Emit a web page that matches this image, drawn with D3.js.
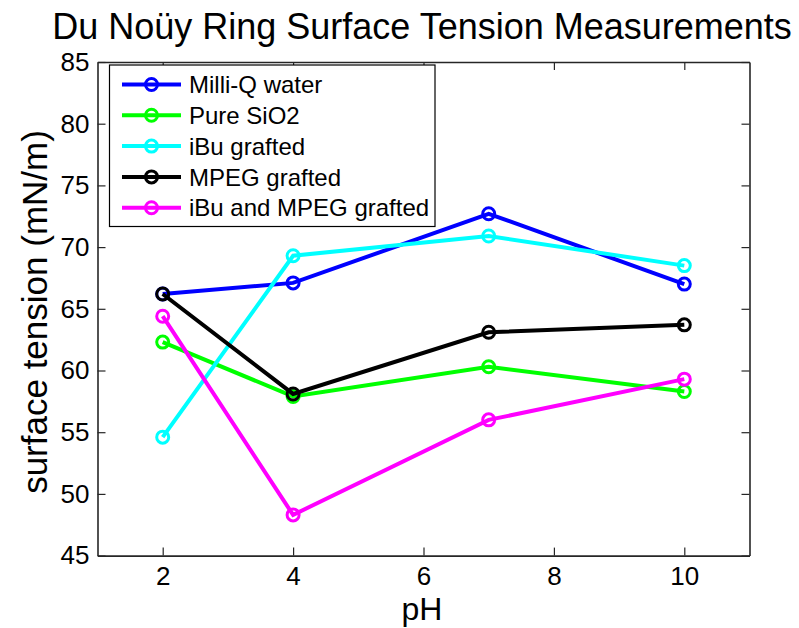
<!DOCTYPE html>
<html><head><meta charset="utf-8">
<script src="https://cdn.jsdelivr.net/npm/d3@7"></script>
<style>body{margin:0;background:#fff}svg{display:block}text{font-family:"Liberation Sans",Arial,sans-serif}</style>
</head><body>
<script>
const pH = [2, 4, 7, 10];
const milliQ = [66.2, 67.1, 72.7, 67.0];
const pureSiO2 = [62.3, 57.9, 60.3, 58.3];
const iBu = [54.6, 69.3, 70.9, 68.5];
const mpeg = [66.2, 58.1, 63.1, 63.7];
const iBuMpeg = [64.4, 48.3, 56.0, 59.3];
const seriesNames = ["Milli-Q water", "Pure SiO2", "iBu grafted", "MPEG grafted", "iBu and MPEG grafted"];
const seriesColors = ["#0000ff", "#00ff00", "#00ffff", "#000000", "#ff00ff"];
const xTicks = [2, 4, 6, 8, 10];
const yTicks = [45, 50, 55, 60, 65, 70, 75, 80, 85];

const W = 799, H = 628;
const m = {l: 97.5, r: 799 - 749.5, t: 62, b: 628 - 555.6};
const svg = d3.select("body").append("svg").attr("width", W).attr("height", H);
const x = d3.scaleLinear().domain([1, 11]).range([m.l, W - m.r]);
const y = d3.scaleLinear().domain([45, 85]).range([H - m.b, m.t]);

const allSeries = [milliQ, pureSiO2, iBu, mpeg, iBuMpeg];

// axes
const tl = 8;
const gx = svg.append("g").attr("transform", `translate(0,${y(45)})`)
  .call(d3.axisBottom(x).tickValues(xTicks).tickSizeInner(-tl).tickSizeOuter(0).tickPadding(11));
const gxt = svg.append("g").attr("transform", `translate(0,${y(85)})`)
  .call(d3.axisTop(x).tickValues(xTicks).tickSizeInner(-tl).tickSizeOuter(0).tickFormat(""));
const gy = svg.append("g").attr("transform", `translate(${x(1)},0)`)
  .call(d3.axisLeft(y).tickValues(yTicks).tickSizeInner(-tl).tickSizeOuter(0).tickPadding(8));
const gyr = svg.append("g").attr("transform", `translate(${x(11)},0)`)
  .call(d3.axisRight(y).tickValues(yTicks).tickSizeInner(-tl).tickSizeOuter(0).tickFormat(""));
[gx, gxt, gy, gyr].forEach(g => {
  g.select(".domain").attr("stroke", "#262626").attr("stroke-width", 1.6);
  g.selectAll(".tick line").attr("stroke", "#262626").attr("stroke-width", 1.2);
  g.selectAll(".tick text").attr("fill", "#000").style("font-size", "26px").style("font-family", "Liberation Sans, Arial, sans-serif");
});

// series
const line = d3.line().x((d, i) => x(pH[i])).y(d => y(d));
allSeries.forEach((s, k) => {
  const g = svg.append("g");
  g.append("path").datum(s).attr("d", line).attr("fill", "none")
    .attr("stroke", seriesColors[k]).attr("stroke-width", 4).attr("stroke-linejoin", "miter");
  g.selectAll("circle").data(s).join("circle")
    .attr("cx", (d, i) => x(pH[i])).attr("cy", d => y(d)).attr("r", 6)
    .attr("fill", "none").attr("stroke", seriesColors[k]).attr("stroke-width", 3);
});

// legend
const lg = svg.append("g");
lg.append("rect").attr("x", 109.5).attr("y", 65).attr("width", 325.5).attr("height", 161.5)
  .attr("fill", "#fff").attr("stroke", "#000").attr("stroke-width", 1.2);
seriesNames.forEach((n, k) => {
  const yy = 84.5 + k * 30.8;
  lg.append("line").attr("x1", 122).attr("x2", 181).attr("y1", yy).attr("y2", yy)
    .attr("stroke", seriesColors[k]).attr("stroke-width", 4);
  lg.append("circle").attr("cx", 151.5).attr("cy", yy).attr("r", 6)
    .attr("fill", "none").attr("stroke", seriesColors[k]).attr("stroke-width", 3);
  lg.append("text").attr("x", 189).attr("y", yy).attr("dy", "0.36em")
    .style("font-size", "24px").text(n);
});

// titles
svg.append("text").attr("x", 422).attr("y", 39).attr("text-anchor", "middle")
  .style("font-size", "36px").text("Du Noüy Ring Surface Tension Measurements");
svg.append("text").attr("x", 422).attr("y", 620).attr("text-anchor", "middle")
  .style("font-size", "32px").text("pH");
svg.append("text").attr("transform", `translate(47,312) rotate(-90)`)
  .attr("text-anchor", "middle").style("font-size", "35px").text("surface tension (mN/m)");
</script>
</body></html>
